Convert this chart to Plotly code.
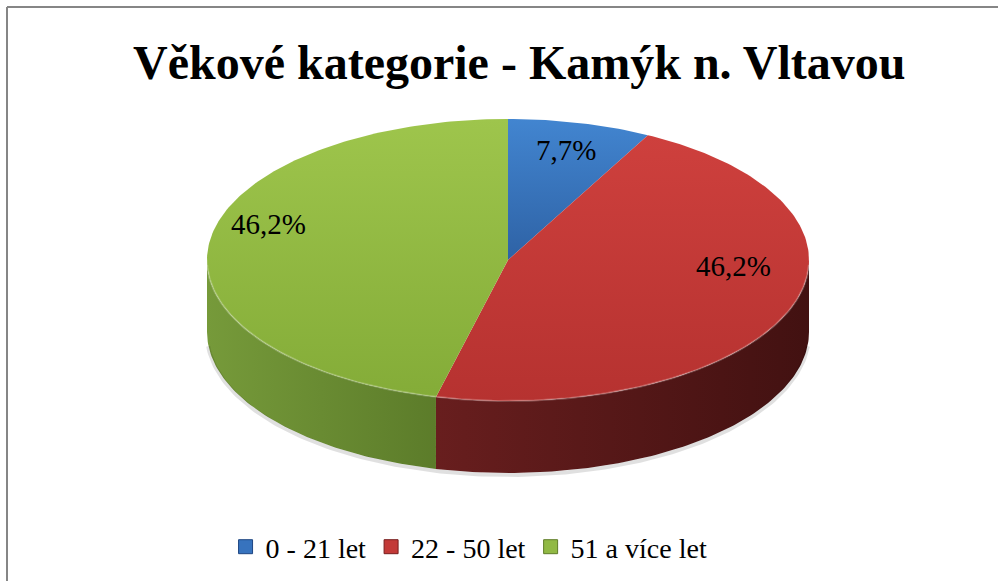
import numpy as np
import plotly.graph_objects as go

# data
labels = ["0 - 21 let", "22 - 50 let", "51 a více let"]
values = [1, 6, 6]
title_text = "Věkové kategorie - Kamýk n. Vltavou"

top_grad = [("rgb(46,98,165)", "rgb(66,133,208)"),
            ("rgb(182,50,48)", "rgb(206,64,61)"),
            ("rgb(132,172,56)", "rgb(158,197,76)")]
side_grad = [("rgb(40,80,140)", "rgb(30,60,110)"),
             ("rgb(104,30,30)", "rgb(66,17,17)"),
             ("rgb(118,154,58)", "rgb(92,124,42)")]
legend_colors = ["rgb(55,115,190)", "rgb(195,58,56)", "rgb(145,185,68)"]
legend_lines = ["rgb(30,70,130)", "rgb(120,30,30)", "rgb(95,125,40)"]

W, H = 998, 581
cx, cy, rx, ry, depth = 508, 260, 301, 141, 72
FONT = "Times New Roman, Liberation Serif, serif"


def arc(t0, t1, dy=0.0):
    n = max(int(abs(t1 - t0) / 1.0), 2)
    th = np.radians(np.linspace(t0, t1, n + 1))
    return cx + rx * np.sin(th), cy - ry * np.cos(th) + dy


total = float(sum(values))
fracs = [v / total for v in values]
bounds = np.concatenate([[0.0], np.cumsum(fracs)]) * 360.0

fig = go.Figure()

# side walls (front half only: 90..270 deg clockwise from top)
for i in range(len(values)):
    a, b = max(bounds[i], 90.0), min(bounds[i + 1], 270.0)
    if a >= b:
        continue
    xt, yt = arc(a, b)
    xb, yb = arc(b, a, depth)
    fig.add_trace(go.Scatter(
        x=np.concatenate([xt, xb, xt[:1]]), y=np.concatenate([yt, yb, yt[:1]]),
        mode="lines", fill="toself", line=dict(width=0),
        fillgradient=dict(type="horizontal",
                          colorscale=[[0, side_grad[i][0]], [1, side_grad[i][1]]]),
        hoverinfo="skip", showlegend=False))

# soft shadow under the front edge
xs, ys = arc(95, 265, depth + 2)
fig.add_trace(go.Scatter(x=xs, y=ys, mode="lines",
                         line=dict(color="rgba(0,0,0,0.12)", width=4),
                         hoverinfo="skip", showlegend=False))

# top faces
for i in range(len(values)):
    xt, yt = arc(bounds[i], bounds[i + 1])
    fig.add_trace(go.Scatter(
        x=np.concatenate([[cx], xt, [cx]]), y=np.concatenate([[cy], yt, [cy]]),
        mode="lines", fill="toself", line=dict(width=0),
        fillgradient=dict(type="vertical",
                          colorscale=[[0, top_grad[i][0]], [1, top_grad[i][1]]]),
        hoverinfo="skip", showlegend=False))

# bevel highlight on the front edge of the top face
xh, yh = arc(92, 268)
fig.add_trace(go.Scatter(x=xh, y=yh, mode="lines",
                         line=dict(color="rgba(255,255,255,0.22)", width=2),
                         hoverinfo="skip", showlegend=False))

# data labels
for i in range(len(values)):
    mid = np.radians((bounds[i] + bounds[i + 1]) / 2)
    lx = cx + rx * 0.8 * np.sin(mid)
    ly = cy - 25 - ry * 0.62 * np.cos(mid)
    txt = f"{fracs[i] * 100:.1f}%".replace(".", ",")
    fig.add_annotation(x=lx, y=ly, text=txt, showarrow=False,
                       font=dict(family=FONT, size=29, color="black"))

# legend entries
for i, lab in enumerate(labels):
    fig.add_trace(go.Scatter(
        x=[None], y=[None], mode="markers", name=lab,
        marker=dict(symbol="square", size=14, color=legend_colors[i],
                    line=dict(color=legend_lines[i], width=1))))

fig.add_annotation(x=519, y=62, text=f"<b>{title_text}</b>", showarrow=False,
                   font=dict(family=FONT, size=48, color="black"))

# chart frame
fig.add_shape(type="line", x0=7, x1=W, y0=7, y1=7,
              line=dict(color="rgb(134,134,134)", width=2))
fig.add_shape(type="line", x0=7, x1=7, y0=7, y1=H,
              line=dict(color="rgb(134,134,134)", width=2))

fig.update_layout(
    width=W, height=H,
    margin=dict(l=0, r=0, t=0, b=0),
    plot_bgcolor="white", paper_bgcolor="white",
    xaxis=dict(range=[0, W], visible=False, fixedrange=True),
    yaxis=dict(range=[H, 0], visible=False, fixedrange=True),
    legend=dict(orientation="h", x=0.47, xanchor="center", y=1 - 547 / H,
                yanchor="middle", font=dict(family=FONT, size=28, color="black"),
                itemclick=False, itemdoubleclick=False, bgcolor="rgba(0,0,0,0)"),
    hovermode=False,
)

fig.write_html("out.html", config={"displayModeBar": False},
               post_script="document.body.style.margin='0';"
                           "document.body.style.overflow='hidden';")
